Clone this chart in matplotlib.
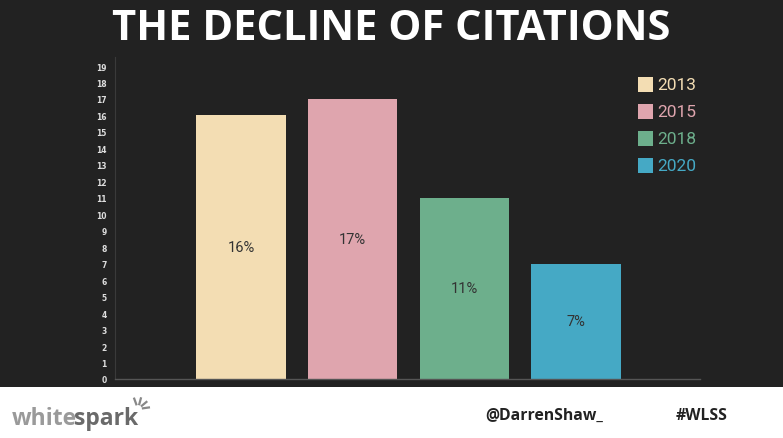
import matplotlib
matplotlib.use("Agg")
import matplotlib.pyplot as plt
from matplotlib.patches import Rectangle
import numpy as np

years = ["2013", "2015", "2018", "2020"]
values = [16, 17, 11, 7]
labels = ["16%", "17%", "11%", "7%"]
colors = ["#F3DDB3", "#DFA5AE", "#6DAF8C", "#45A9C5"]
yticks = list(range(0, 20))

W, H = 783, 439
fig = plt.figure(figsize=(W / 100, H / 100), dpi=100)
fig.patch.set_facecolor("#222222")

# footer
fig.patches.append(Rectangle((0, 0), 1, 51 / H, transform=fig.transFigure,
                             facecolor="white", edgecolor="none", zorder=0))

ax = fig.add_axes([115 / W, (H - 380) / H, (700 - 115) / W, (380 - 58) / H])
ax.set_facecolor("#222222")
x = np.arange(len(years))
bars = ax.bar(x, values, width=0.8, color=colors, zorder=2)
for xi, v, lab in zip(x, values, labels):
    ax.text(xi, v / 2, lab, ha="center", va="center", fontsize=10.5,
            color="#333333", family="Roboto")
ax.set_xlim(-1.13, 4.11)
ax.set_ylim(0, 19.55)
ax.set_yticks(yticks)
ax.set_yticklabels([str(t) for t in yticks], fontsize=5.5, fontweight="bold",
                   color="#DDDDDD", family="DejaVu Sans")
ax.set_xticks([])
ax.tick_params(axis="y", length=0, pad=6)
for s in ["top", "right"]:
    ax.spines[s].set_visible(False)
ax.spines["left"].set_color("#3a3a3a")
ax.spines["bottom"].set_color("#555555")
ax.spines["left"].set_linewidth(0.8)
ax.spines["bottom"].set_linewidth(1.0)

# legend
for i, (yr, c) in enumerate(zip(years, colors)):
    yc = 85 + i * 27.3
    fig.patches.append(Rectangle((638 / W, (H - yc - 7.5) / H), 15 / W, 15 / H,
                                 transform=fig.transFigure, facecolor=c,
                                 edgecolor="none"))
    fig.text(657 / W, (H - yc) / H, yr, color=c, fontsize=12.5, va="center",
             ha="left", family="Roboto")

fig.text(391 / W, (H - 29) / H, "THE DECLINE OF CITATIONS", color="white",
         fontsize=30, fontweight="bold", ha="center", va="center",
         family="Open Sans")

# footer texts
fig.text(12 / W, (H - 419) / H, "white", color="#9a9a9a", fontsize=16.5,
         fontweight="bold", ha="left", va="center", family="Open Sans")
fig.text(74 / W, (H - 419) / H, "spark", color="#6a6a6a", fontsize=16.5,
         fontweight="bold", ha="left", va="center", family="Open Sans")
cx, cy = 138, 410
for ang in [110, 75, 40, 8]:
    a = np.deg2rad(ang)
    r1, r2 = 5, 11
    fig.add_artist(plt.Line2D([(cx + r1 * np.cos(a)) / W, (cx + r2 * np.cos(a)) / W],
                              [(H - cy + r1 * np.sin(a)) / H, (H - cy + r2 * np.sin(a)) / H],
                              transform=fig.transFigure, color="#888888", lw=1.6))
fig.text(485 / W, (H - 416) / H, "@DarrenShaw_", color="#222222", fontsize=11.3,
         fontweight="bold", ha="left", va="center", family="Open Sans")
fig.text(676 / W, (H - 416) / H, "#WLSS", color="#222222", fontsize=11.3,
         fontweight="bold", ha="left", va="center", family="Open Sans")

fig.savefig("out.png", dpi=100, facecolor=fig.get_facecolor())
